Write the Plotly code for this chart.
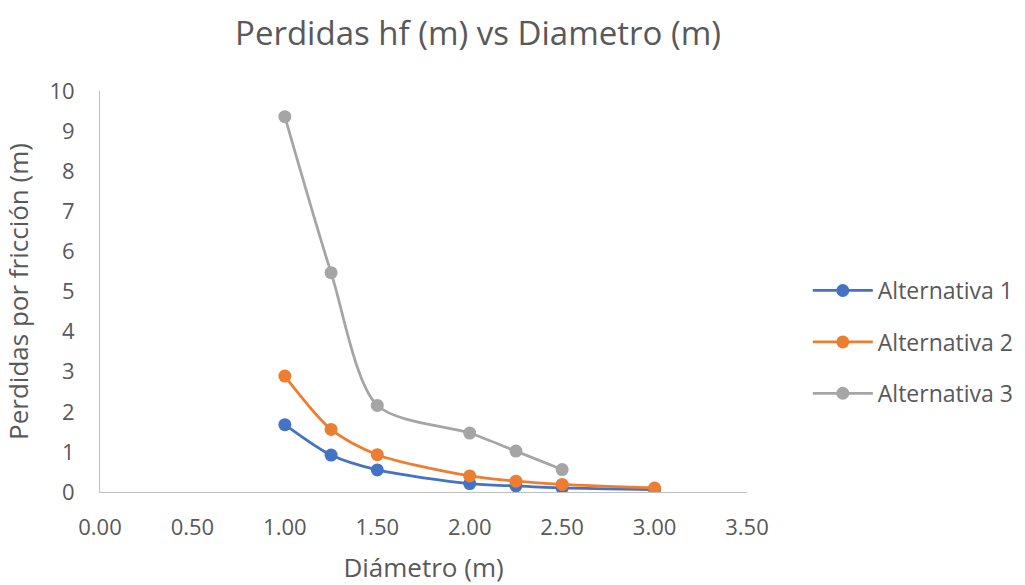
import plotly.graph_objects as go

diametro = [1.00, 1.25, 1.50, 2.00, 2.25, 2.50, 3.00]
alt1 = [1.68, 0.92, 0.55, 0.21, 0.15, 0.10, 0.06]
alt2 = [2.89, 1.56, 0.93, 0.40, 0.27, 0.19, 0.10]
diametro3 = [1.00, 1.25, 1.50, 2.00, 2.25, 2.50]
alt3 = [9.36, 5.47, 2.16, 1.47, 1.02, 0.56]

names = ["Alternativa 1", "Alternativa 2", "Alternativa 3"]
colors = ["#4472C4", "#ED7D31", "#A5A5A5"]

fig = go.Figure()
for i, (xs, ys) in enumerate([(diametro, alt1), (diametro, alt2), (diametro3, alt3)]):
    fig.add_trace(go.Scatter(
        x=xs, y=ys, name=names[i], mode="lines+markers",
        line=dict(color=colors[i], width=2.75, shape="spline", smoothing=0.8),
        marker=dict(color=colors[i], size=13),
        legendgroup=str(i),
    ))

font = "Open Sans, sans-serif"
fig.update_layout(
    width=1025, height=585,
    margin=dict(l=100, r=278, t=91, b=93, autoexpand=False),
    paper_bgcolor="white", plot_bgcolor="white",
    font=dict(family=font, color="#595959", size=20),
    title=dict(text="Perdidas hf (m) vs Diametro (m)", x=478/1025, xanchor="center",
               y=1 - 33/585, yanchor="middle", font=dict(size=33, color="#595959")),
    xaxis=dict(range=[0, 3.5], dtick=0.5, tickformat=".2f", showgrid=False, automargin=False,
               showline=True, linecolor="#BFBFBF", linewidth=1, zeroline=False,
               ticks="", ticklabelstandoff=16, tickfont=dict(size=22, color="#595959"),
               title=dict(text="Diámetro (m)", font=dict(size=26, color="#595959"), standoff=26)),
    yaxis=dict(range=[0, 10], dtick=1, showgrid=False, showline=True, automargin=False,
               linecolor="#BFBFBF", linewidth=1, zeroline=False, ticks="",
               ticklabelstandoff=20, tickfont=dict(size=22, color="#595959"),
               title=dict(text="Perdidas por fricción (m)", font=dict(size=26, color="#595959"), standoff=20)),
    legend=dict(x=1.094, xanchor="left", y=0.374, yanchor="middle",
                traceorder="grouped", tracegroupgap=18.5, itemwidth=60,
                font=dict(size=23, color="#595959")),
)

fig.write_html("out.html")
